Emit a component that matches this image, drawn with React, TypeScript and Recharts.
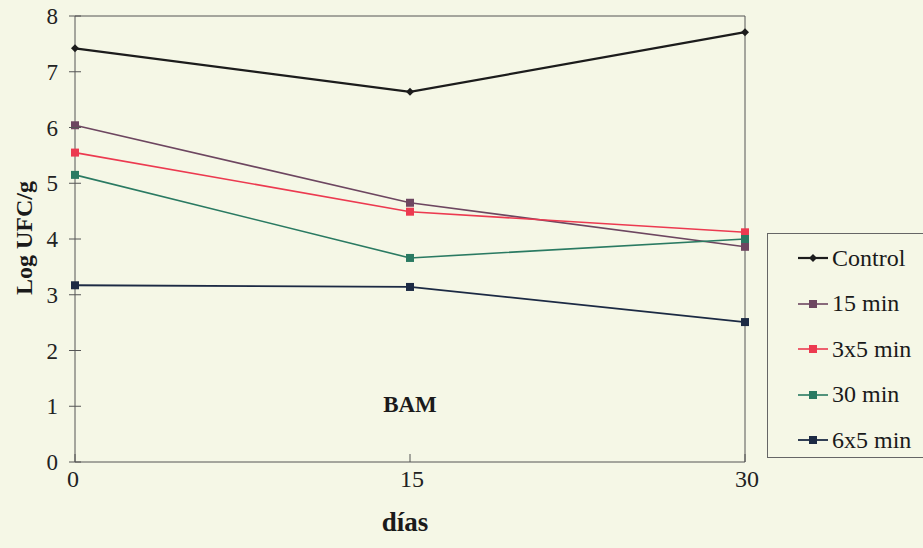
import React from 'react';
import { LineChart, Line, XAxis, YAxis, ReferenceLine } from 'recharts';

const dias = [0, 15, 30];
const control = [7.42, 6.64, 7.71];
const min15 = [6.04, 4.65, 3.86];
const min3x5 = [5.55, 4.49, 4.12];
const min30 = [5.15, 3.66, 4.0];
const min6x5 = [3.17, 3.14, 2.51];
const yTicks = [0, 1, 2, 3, 4, 5, 6, 7, 8];

const SERIES = [
  { key: 'control', label: 'Control', values: control, color: '#1c1c1c', shape: 'diamond', width: 2.2 },
  { key: 'min15', label: '15 min', values: min15, color: '#6d4660', shape: 'square', width: 1.6 },
  { key: 'min3x5', label: '3x5 min', values: min3x5, color: '#ec3a50', shape: 'square', width: 1.6 },
  { key: 'min30', label: '30 min', values: min30, color: '#2a7a62', shape: 'square', width: 1.6 },
  { key: 'min6x5', label: '6x5 min', values: min6x5, color: '#1c2a44', shape: 'square', width: 1.8 },
];

const data = dias.map((d, i) => {
  const row: Record<string, number> = { dia: d };
  SERIES.forEach((s) => { row[s.key] = s.values[i]; });
  return row;
});

const FONT = '"Liberation Serif", "Times New Roman", serif';
const AXIS = '#555';
const BG = '#f5f7e6';

function Marker({ cx, cy, color, shape }: any) {
  if (cx == null || cy == null) return null;
  if (shape === 'diamond') {
    return <path d={`M${cx},${cy - 4} L${cx + 4},${cy} L${cx},${cy + 4} L${cx - 4},${cy} Z`} fill={color} />;
  }
  return <rect x={cx - 4} y={cy - 4} width={8} height={8} fill={color} />;
}

function YTick({ x, y, payload }: any) {
  return (
    <g>
      <line x1={x - 6} x2={x + 6} y1={y} y2={y} stroke={AXIS} strokeWidth={1} />
      <text x={x - 17} y={y + 8} textAnchor="end" fontSize={23} fontFamily={FONT} fill="#222">
        {payload.value}
      </text>
    </g>
  );
}

function XTick({ x, y, payload }: any) {
  return (
    <g>
      <line x1={x} x2={x} y1={y - 8} y2={y} stroke={AXIS} strokeWidth={1} />
      <text x={x + (payload.value === 0 ? -2 : 2)} y={y + 25} textAnchor="middle" fontSize={24} fontFamily={FONT} fill="#222">
        {payload.value}
      </text>
    </g>
  );
}

export default function App() {
  return (
    <div style={{ position: 'absolute', left: 0, top: 0, width: 923, height: 548, background: BG, fontFamily: FONT, overflow: 'hidden' }}>
      <LineChart width={923} height={548} data={data} margin={{ top: 16, right: 178, left: 0, bottom: 56 }}>
        <XAxis
          dataKey="dia"
          type="number"
          domain={[0, 30]}
          ticks={dias}
          tick={<XTick />}
          tickLine={false}
          tickSize={0}
          tickMargin={0}
          height={30}
          stroke={AXIS}
        />
        <YAxis
          type="number"
          domain={[0, 8]}
          ticks={yTicks}
          tick={<YTick />}
          tickLine={false}
          tickSize={0}
          tickMargin={0}
          width={75}
          stroke={AXIS}
        />
        <ReferenceLine y={8} stroke={AXIS} strokeWidth={1} />
        <ReferenceLine x={30} stroke={AXIS} strokeWidth={1} />
        {SERIES.map((s) => (
          <Line
            key={s.key}
            dataKey={s.key}
            type="linear"
            stroke={s.color}
            strokeWidth={s.width}
            dot={(p: any) => <Marker key={`${s.key}-${p.index}`} cx={p.cx} cy={p.cy} color={s.color} shape={s.shape} />}
            activeDot={false}
            isAnimationActive={false}
          />
        ))}
      </LineChart>

      <div style={{ position: 'absolute', left: 24, top: 238, transform: 'translate(-50%, -50%) rotate(-90deg)', fontSize: 24, fontWeight: 'bold', whiteSpace: 'nowrap', color: '#1a1a1a', fontFamily: FONT }}>
        Log UFC/g
      </div>
      <div style={{ position: 'absolute', left: 410, top: 405, transform: 'translate(-50%, -50%)', fontSize: 23, fontWeight: 'bold', color: '#1a1a1a', fontFamily: FONT }}>
        BAM
      </div>
      <div style={{ position: 'absolute', left: 405, top: 522, transform: 'translate(-50%, -50%)', fontSize: 27, fontWeight: 'bold', color: '#1a1a1a', fontFamily: FONT }}>
        días
      </div>

      <div style={{ position: 'absolute', left: 767, top: 233, width: 170, height: 225, border: '1px solid #666', boxSizing: 'border-box' }}>
        {SERIES.map((s, i) => (
          <div key={s.key} style={{ position: 'absolute', left: 30, top: 24 + i * 45.5 - 14, height: 28, display: 'flex', alignItems: 'center', fontSize: 24, fontFamily: FONT, color: '#1a1a1a', whiteSpace: 'nowrap' }}>
            <svg width={33} height={12} style={{ marginRight: 1 }}>
              <line x1={0} x2={30} y1={6} y2={6} stroke={s.color} strokeWidth={s.width} />
              <Marker cx={15} cy={6} color={s.color} shape={s.shape} />
            </svg>
            {s.label}
          </div>
        ))}
      </div>
    </div>
  );
}
